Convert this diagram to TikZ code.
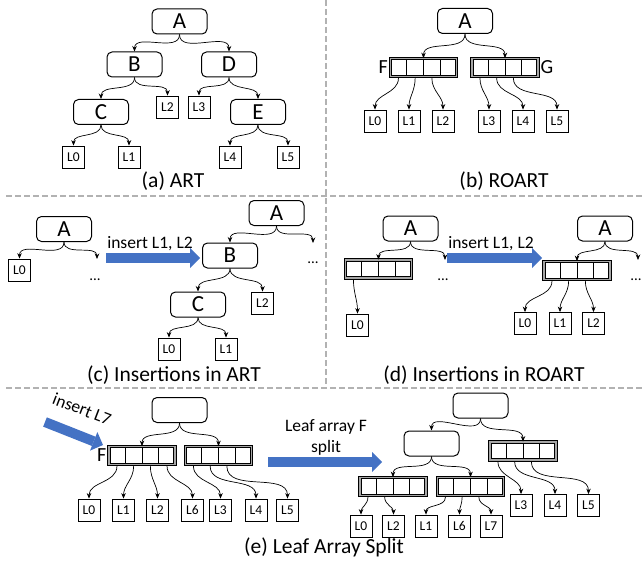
\documentclass[tikz,border=0pt]{standalone}
\usepackage{fontspec}
\setmainfont{Carlito}
\usetikzlibrary{arrows.meta,positioning,calc}

\definecolor{arrblue}{HTML}{4472C4}

\newcommand{\leafarray}[2]{%
  \node[cellarr] (#1) at (#2) {};
  \foreach \f in {.25,.5,.75}
    \draw[line width=0.7pt] ([yshift=-1.6pt]$(#1.north west)!\f!(#1.north east)$) -- ([yshift=1.6pt]$(#1.south west)!\f!(#1.south east)$);
  \foreach \i/\f in {1/.125,2/.375,3/.625,4/.875}
    \coordinate (#1-\i) at ([yshift=-1.2pt]$(#1.south west)!\f!(#1.south east)$);
}

\begin{document}
\begin{tikzpicture}[x=1pt,y=-1pt,
    inode/.style={draw, rounded corners=5pt, line width=1pt, minimum width=55pt, minimum height=25pt, inner sep=0pt, font=\fontsize{23}{26}\selectfont},
    leaf/.style={draw, line width=0.8pt, minimum width=22pt, minimum height=22pt, inner sep=0pt, font=\fontsize{13.5}{15}\selectfont},
    cellarr/.style={draw, double=gray!70, double distance=1.6pt, line width=0.8pt, minimum width=66pt, minimum height=18pt, inner sep=0pt},
    conn/.style={-{Stealth[length=5.5pt,width=4.5pt]}, line width=0.7pt, out=-90, in=90},
    capt/.style={font=\fontsize{21.5}{25}\selectfont, inner sep=0pt},
    lbl/.style={font=\fontsize{20}{23}\selectfont, inner sep=1pt},
    ins/.style={font=\fontsize{17.5}{21}\selectfont, inner sep=0pt, align=center},
    dots/.style={font=\fontsize{15}{17}\selectfont, inner sep=0pt},
    bigarr/.style={line width=10pt, draw=arrblue, -{Triangle[length=10pt,width=20pt,line width=0pt]}},
    sep/.style={gray!60, dash pattern=on 6pt off 3pt, line width=1.5pt}]
\useasboundingbox (0,0) rectangle (642,567);

\draw[sep] (6,196) -- (642,196);
\draw[sep] (6,388) -- (642,388);
\draw[sep] (326,0) -- (326,388);

% (a) ART
\node[inode] (aA) at (179.5,21.5) {A};
\node[inode] (aB) at (134.5,64.5) {B};
\node[inode] (aD) at (229,64.5) {D};
\node[inode] (aC) at (101,112) {C};
\node[leaf] (aL2) at (167.5,107) {L2};
\node[leaf] (aL3) at (199,107) {L3};
\node[inode] (aE) at (258,112) {E};
\node[leaf] (aL0) at (73.5,157) {L0};
\node[leaf] (aL1) at (129,157) {L1};
\node[leaf] (aL4) at (230,157) {L4};
\node[leaf] (aL5) at (288,157) {L5};
\draw[conn] (aA.south) to (aB.north);
\draw[conn] (aA.south) to (aD.north);
\draw[conn] (aB.south) to (aC.north);
\draw[conn] (aB.south) to (aL2.north);
\draw[conn] (aD.south) to (aL3.north);
\draw[conn] (aD.south) to (aE.north);
\draw[conn] (aC.south) to (aL0.north);
\draw[conn] (aC.south) to (aL1.north);
\draw[conn] (aE.south) to (aL4.north);
\draw[conn] (aE.south) to (aL5.north);
\node[capt] (acap) at (173,181) {(a) ART};

% (b) ROART
\node[inode] (bA) at (465,21) {A};
\leafarray{bF}{423.5,67.5}
\leafarray{bG}{505,67.5}
\node[lbl, left=1pt of bF] (bFl) {F};
\node[lbl, right=1pt of bG] (bGl) {G};
\node[leaf] (bL0) at (375,121) {L0};
\node[leaf] (bL1) at (409,121) {L1};
\node[leaf] (bL2) at (443,121) {L2};
\node[leaf] (bL3) at (489,121) {L3};
\node[leaf] (bL4) at (523,121) {L4};
\node[leaf] (bL5) at (557,121) {L5};
\draw[conn] (bA.south) to (bF.north);
\draw[conn] (bA.south) to (bG.north);
\draw[conn] (bF-1) to (bL0.north);
\draw[conn] (bF-2) to (bL1.north);
\draw[conn] (bF-3) to (bL2.north);
\draw[conn] (bG-1) to (bL3.north);
\draw[conn] (bG-2) to (bL4.north);
\draw[conn] (bG-3) to (bL5.north);
\node[capt] (bcap) at (504,181) {(b) ROART};

% (c) Insertions in ART
\node[inode] (cA) at (64,229) {A};
\node[leaf] (cL0) at (19.5,270) {L0};
\coordinate (cd1) at (97,259);
\node[dots] (cdots1) at (95,280) {...};
\draw[conn] (cA.south) to (cL0.north);
\draw[conn] (cA.south) to (cd1);
\coordinate (cs) at (106,258);
\coordinate (ce) at (200,258);
\draw[bigarr] (cs) -- (ce);
\node[ins] (cins) at (150,244) {insert L1, L2};
\node[inode] (cA2) at (276.5,213) {A};
\node[inode] (cB) at (230,255.5) {B};
\coordinate (cd2) at (313,243);
\node[dots] (cdots2) at (313,263) {...};
\node[inode] (cC) at (198,304.5) {C};
\node[leaf] (cL2) at (262.5,303) {L2};
\node[leaf] (cL0b) at (169,349) {L0};
\node[leaf] (cL1b) at (226,349) {L1};
\draw[conn] (cA2.south) to (cB.north);
\draw[conn] (cA2.south) to (cd2);
\draw[conn] (cB.south) to (cC.north);
\draw[conn] (cB.south) to (cL2.north);
\draw[conn] (cC.south) to (cL0b.north);
\draw[conn] (cC.south) to (cL1b.north);
\node[capt] (ccap) at (174,375) {(c) Insertions in ART};

% (d) Insertions in ROART
\node[inode] (dA) at (410.5,228.5) {A};
\leafarray{dF}{378.5,269}
\coordinate (dd1) at (445,260);
\node[dots] (ddots1) at (443,280) {...};
\node[leaf] (dL0) at (357.5,325) {L0};
\draw[conn] (dA.south) to (dF.north);
\draw[conn] (dA.south) to (dd1);
\draw[conn] (dF-1) to (dL0.north);
\coordinate (ds) at (447,258);
\coordinate (de) at (542,258);
\draw[bigarr] (ds) -- (de);
\node[ins] (dins) at (491,244) {insert L1, L2};
\node[inode] (dA2) at (605,228.5) {A};
\leafarray{dF2}{577,270.5}
\coordinate (dd2) at (638,260);
\node[dots] (ddots2) at (636,280) {...};
\node[leaf] (dL0b) at (525,323.5) {L0};
\node[leaf] (dL1b) at (560,323.5) {L1};
\node[leaf] (dL2b) at (593.5,323.5) {L2};
\draw[conn] (dA2.south) to (dF2.north);
\draw[conn] (dA2.south) to (dd2);
\draw[conn] (dF2-1) to (dL0b.north);
\draw[conn] (dF2-2) to (dL1b.north);
\draw[conn] (dF2-3) to (dL2b.north);
\node[capt] (dcap) at (484,375) {(d) Insertions in ROART};

% (e) Leaf Array Split
\node[inode] (eR) at (179.5,410) {};
\leafarray{eF}{142,455.5}
\leafarray{eH}{218.5,455.5}
\node[lbl, left=1pt of eF] (eFl) {F};
\node[leaf] (eL0) at (89,510) {L0};
\node[leaf] (eL1) at (123.5,510) {L1};
\node[leaf] (eL2) at (157.5,510) {L2};
\node[leaf] (eL6) at (192.5,510) {L6};
\node[leaf] (eL3) at (220.5,510) {L3};
\node[leaf] (eL4) at (256,510) {L4};
\node[leaf] (eL5) at (287.5,510) {L5};
\draw[conn] (eR.south) to (eF.north);
\draw[conn] (eR.south) to (eH.north);
\draw[conn] (eF-1) to (eL0.north);
\draw[conn] (eF-2) to (eL1.north);
\draw[conn] (eF-3) to (eL2.north);
\draw[conn] (eF-4) to (eL6.north);
\draw[conn] (eH-1) to (eL3.north);
\draw[conn] (eH-2) to (eL4.north);
\draw[conn] (eH-3) to (eL5.north);
\coordinate (es1) at (45,422);
\coordinate (ee1) at (103,445);
\draw[bigarr] (es1) -- (ee1);
\node[ins, rotate=-21] (eins1) at (82,409) {insert L7};
\coordinate (es2) at (268,462);
\coordinate (ee2) at (382,462);
\draw[bigarr] (es2) -- (ee2);
\node[ins] (eins2) at (326,437) {Leaf array F\\split};
\node[inode] (eR2) at (480.5,405.5) {};
\node[inode] (eM) at (431.5,443.5) {};
\leafarray{eK}{523,451}
\leafarray{eP}{393,486.5}
\leafarray{eQ}{470.5,486.5}
\node[leaf] (eL0b) at (361,526) {L0};
\node[leaf] (eL2b) at (393.5,526) {L2};
\node[leaf] (eL1b) at (426,526) {L1};
\node[leaf] (eL6b) at (459.5,526) {L6};
\node[leaf] (eL7b) at (491,526) {L7};
\node[leaf] (eL3b) at (521,505.5) {L3};
\node[leaf] (eL4b) at (555,505.5) {L4};
\node[leaf] (eL5b) at (588.5,505.5) {L5};
\draw[conn] (eR2.south) to (eM.north);
\draw[conn] (eR2.south) to (eK.north);
\draw[conn] (eM.south) to (eP.north);
\draw[conn] (eM.south) to (eQ.north);
\draw[conn] (eP-1) to (eL0b.north);
\draw[conn] (eP-2) to (eL2b.north);
\draw[conn] (eQ-1) to (eL1b.north);
\draw[conn] (eQ-2) to (eL6b.north);
\draw[conn] (eQ-3) to (eL7b.north);
\draw[conn] (eK-1) to (eL3b.north);
\draw[conn] (eK-2) to (eL4b.north);
\draw[conn] (eK-3) to (eL5b.north);
\node[capt] (ecap) at (324,547) {(e) Leaf Array Split};
\end{tikzpicture}
\end{document}
